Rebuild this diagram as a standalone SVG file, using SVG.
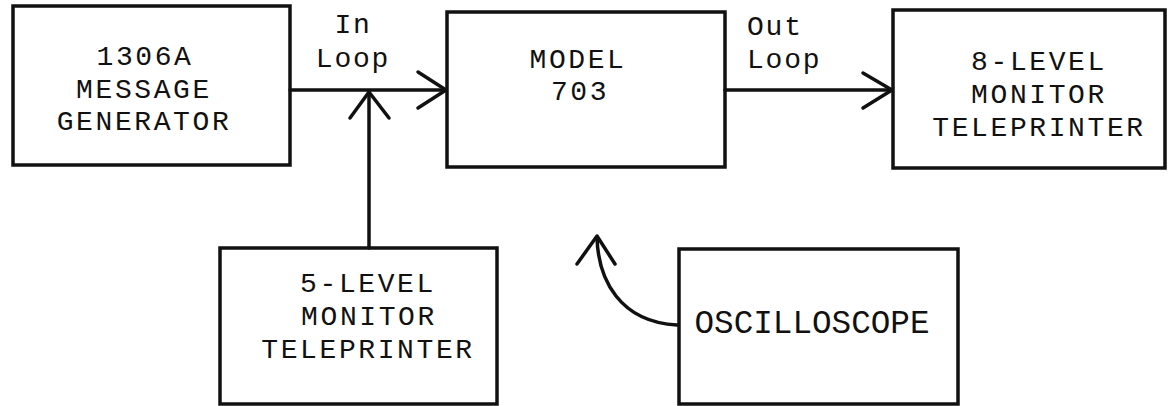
<svg xmlns="http://www.w3.org/2000/svg" width="1168" height="406" viewBox="0 0 1168 406">
<style>
.box{fill:none;stroke:#111;stroke-width:3.5}
.ln{fill:none;stroke:#111;stroke-width:3.5;stroke-linecap:round;stroke-linejoin:round}
.t{font-family:"Liberation Mono","DejaVu Sans Mono",monospace;font-size:28px;letter-spacing:2.6px;fill:#111;text-anchor:middle}
.lb{font-family:"Liberation Mono","DejaVu Sans Mono",monospace;font-size:28px;letter-spacing:1.8px;fill:#111}
</style>
<rect width="1168" height="406" fill="#fff"/>
<g id="generator">
<rect class="box" x="13" y="6" width="277" height="159"/>
<text class="t" x="145" y="65">1306A</text>
<text class="t" x="144" y="98">MESSAGE</text>
<text class="t" x="144" y="130">GENERATOR</text>
</g>
<g id="model703">
<rect class="box" x="447" y="12" width="278" height="155"/>
<text class="t" x="578" y="68">MODEL</text>
<text class="t" x="580" y="100">703</text>
</g>
<g id="monitor8">
<rect class="box" x="893" y="10" width="272" height="158"/>
<text class="t" x="1039" y="70">8-LEVEL</text>
<text class="t" x="1039" y="103">MONITOR</text>
<text class="t" x="1039" y="136">TELEPRINTER</text>
</g>
<g id="monitor5">
<rect class="box" x="220" y="248" width="277" height="156"/>
<text class="t" x="368" y="292">5-LEVEL</text>
<text class="t" x="369" y="325">MONITOR</text>
<text class="t" x="368" y="358">TELEPRINTER</text>
</g>
<g id="oscilloscope">
<rect class="box" x="679" y="249" width="279" height="155"/>
<text class="t" x="812" y="333" style="font-size:34px;letter-spacing:0" textLength="235" lengthAdjust="spacingAndGlyphs">OSCILLOSCOPE</text>
</g>
<g id="connectors">
<path class="ln" d="M290,90 H446"/>
<path class="ln" d="M418,72 L446,90 L418,108"/>
<path class="ln" d="M725,90 H892"/>
<path class="ln" d="M863,73 L892,90 L863,108"/>
<path class="ln" d="M369,248 V92"/>
<path class="ln" d="M350,118 L369,92 L389,118"/>
<path class="ln" d="M677,325 C620,322 598,280 597,237"/>
<path class="ln" d="M577,264 L597,236 L615,264"/>
<text class="lb" x="353" y="33" text-anchor="middle">In</text>
<text class="lb" x="353" y="67" text-anchor="middle">Loop</text>
<text class="lb" x="747" y="35">Out</text>
<text class="lb" x="747" y="68">Loop</text>
</g>
</svg>
